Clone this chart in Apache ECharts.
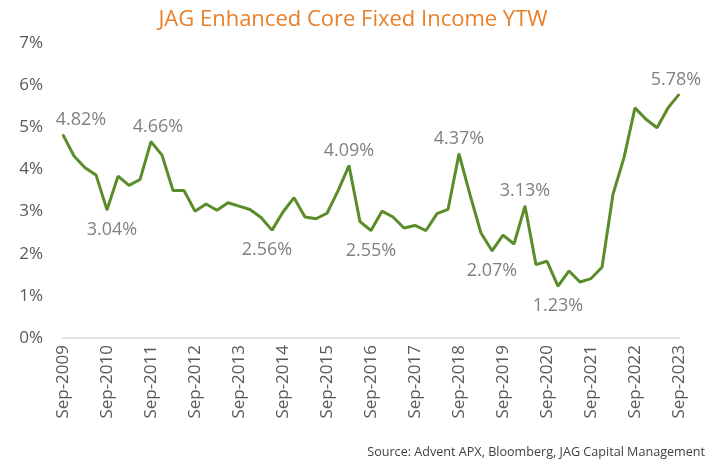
<!DOCTYPE html>
<html>
<head>
<meta charset="utf-8">
<script src="https://cdn.jsdelivr.net/npm/echarts@6/dist/echarts.min.js"></script>
<style>
html,body{margin:0;padding:0;background:#fff;}
#chart{width:706px;height:464px;}
</style>
</head>
<body>
<div id="chart"></div>
<script>
// Quarterly categories Sep-2009 .. Sep-2023
const quarters = ["Sep","Dec","Mar","Jun"];
const categories = [];
for (let y = 2009, q = 0; categories.length < 57; q++) {
  const m = quarters[q % 4];
  if (m === "Mar" && q > 0) y++;
  categories.push(m + "-" + y);
}
// Yield to worst (%)
const ytw = [
  4.82, 4.32, 4.04, 3.87, 3.04, 3.84, 3.62, 3.76, 4.66, 4.34,
  3.50, 3.50, 3.01, 3.18, 3.03, 3.21, 3.13, 3.05, 2.86, 2.56,
  2.99, 3.33, 2.87, 2.83, 2.96, 3.49, 4.09, 2.76, 2.55, 3.01,
  2.87, 2.61, 2.67, 2.55, 2.95, 3.05, 4.37, 3.40, 2.49, 2.07,
  2.44, 2.23, 3.13, 1.74, 1.82, 1.23, 1.59, 1.33, 1.41, 1.68,
  3.41, 4.28, 5.46, 5.19, 4.99, 5.46, 5.78
];
// Which points carry a value label, and whether the label sits above
const labelledIdx = [0, 4, 8, 19, 26, 28, 36, 39, 42, 45, 56];
const labelAbove = [true, false, true, false, true, false, true, false, true, false, true];
const yTicks = [0, 1, 2, 3, 4, 5, 6, 7];

// horizontal nudges of some labels (pixels), keyed by point index
const labelShift = {0: 18, 4: 5, 8: 7, 19: -5, 56: -3};
const labelData = labelledIdx.map((idx, k) => ({
  value: [idx, ytw[idx]],
  label: {
    position: labelAbove[k] ? 'top' : 'bottom',
    distance: labelAbove[k] ? 5 : 10
  }
}));

const FONT = '"Open Sans", "Noto Sans", sans-serif';
const chart = echarts.init(document.getElementById('chart'), null, {renderer: 'canvas'});
chart.setOption({
  animation: false,
  backgroundColor: '#ffffff',
  title: [{
    text: 'JAG Enhanced Core Fixed Income YTW',
    left: 'center', top: 4,
    textStyle: {color: '#E8802A', fontSize: 22, fontWeight: 'normal', fontFamily: FONT}
  }, {
    text: 'Source: Advent APX, Bloomberg, JAG Capital Management',
    right: 1, top: 446, padding: 0,
    textStyle: {color: '#404040', fontSize: 12.6, fontWeight: 'normal', fontFamily: FONT}
  }],
  grid: {left: 63, right: 27, top: 43, bottom: 126, containLabel: false},
  xAxis: {
    type: 'category',
    data: categories,
    boundaryGap: false,
    axisLine: {lineStyle: {color: '#D9D9D9', width: 1.5}},
    axisTick: {show: false},
    axisLabel: {
      interval: 3, rotate: 90, margin: 7,
      color: '#595959', fontSize: 17, fontFamily: FONT
    },
    splitLine: {show: false}
  },
  yAxis: {
    type: 'value',
    min: yTicks[0], max: yTicks[yTicks.length - 1], interval: 1,
    axisLine: {show: false},
    axisTick: {show: false},
    splitLine: {show: false},
    axisLabel: {
      formatter: '{value}%', margin: 20,
      color: '#595959', fontSize: 17, fontFamily: FONT
    }
  },
  series: [{
    type: 'line',
    data: ytw,
    symbol: 'none',
    lineStyle: {color: '#5B8C2A', width: 3},
    itemStyle: {color: '#5B8C2A'},
    z: 3
  }, {
    type: 'scatter',
    data: labelData,
    symbol: 'circle',
    symbolSize: 2,
    itemStyle: {color: '#5B8C2A'},
    label: {
      show: true,
      color: '#606060', fontSize: 18, fontFamily: FONT,
      formatter: (p) => Number(p.value[1]).toFixed(2) + '%'
    },
    labelLayout: (params) => {
      const idx = labelledIdx[params.dataIndex];
      return {dx: labelShift[idx] || 0, hideOverlap: false};
    },
    z: 2
  }]
});
</script>
</body>
</html>
